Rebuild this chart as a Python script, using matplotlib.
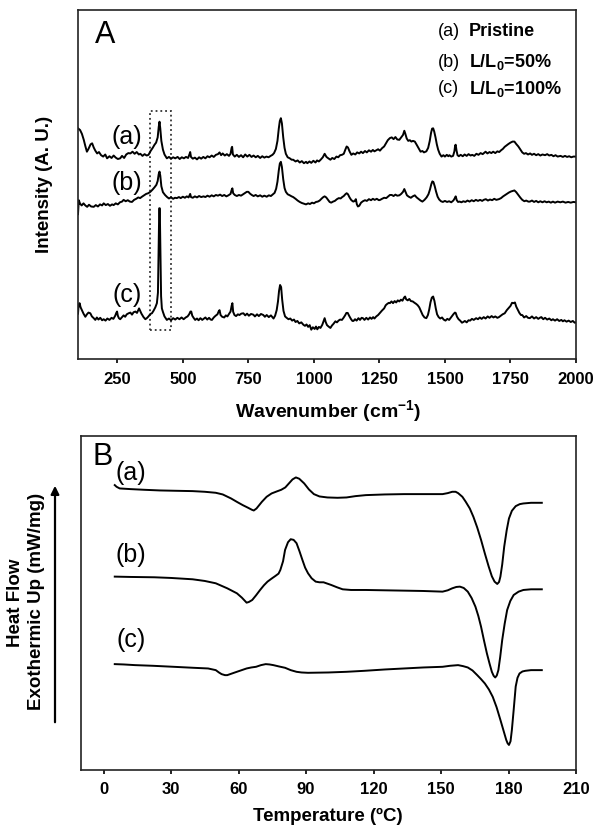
import matplotlib
matplotlib.use("Agg")
import matplotlib.pyplot as plt
from matplotlib.patches import Rectangle, FancyArrowPatch

plt.rcParams['font.family'] = ['Liberation Sans', 'DejaVu Sans']
plt.rcParams['mathtext.fontset'] = 'custom'
plt.rcParams['mathtext.rm'] = 'Liberation Sans'
plt.rcParams['mathtext.bf'] = 'Liberation Sans:bold'

# ---------------- Panel A: Raman spectra (arbitrary units) ----------------
raman_a_x = [100, 108, 115, 122, 128, 134, 140, 148, 154, 160, 166, 173, 180, 188, 196, 204, 211, 220, 228, 236,
             244, 252, 261, 268, 276, 284, 292, 300, 308, 316, 324, 332, 338, 346, 354, 362, 369, 377, 385, 392,
             398, 404, 408, 411, 414, 418, 424, 430, 439, 447, 455, 463, 471, 480, 488, 496, 504, 512, 520, 526,
             528, 531, 538, 546, 554, 562, 570, 578, 586, 594, 602, 610, 618, 626, 634, 640, 646, 652, 660, 668,
             676, 682, 686, 688, 691, 698, 706, 714, 722, 730, 738, 746, 754, 762, 770, 778, 786, 795, 803, 811,
             819, 827, 835, 842, 848, 855, 861, 866, 870, 874, 878, 883, 888, 893, 900, 908, 915, 921, 930, 938,
             946, 954, 962, 970, 975, 983, 990, 998, 1006, 1012, 1019, 1027, 1034, 1041, 1048, 1055, 1063, 1070,
             1078, 1086, 1093, 1100, 1107, 1114, 1120, 1125, 1130, 1136, 1143, 1150, 1158, 1165, 1173, 1180, 1187,
             1195, 1202, 1210, 1218, 1225, 1231, 1238, 1245, 1252, 1260, 1268, 1275, 1282, 1290, 1297, 1304, 1311,
             1318, 1326, 1333, 1340, 1345, 1349, 1354, 1360, 1366, 1372, 1378, 1385, 1392, 1400, 1407, 1414, 1420,
             1429, 1436, 1442, 1447, 1451, 1455, 1459, 1464, 1469, 1474, 1480, 1487, 1494, 1500, 1507, 1513, 1517,
             1524, 1531, 1536, 1539, 1541, 1544, 1548, 1553, 1560, 1568, 1575, 1583, 1590, 1598, 1604, 1612, 1620,
             1628, 1636, 1644, 1650, 1655, 1662, 1670, 1677, 1684, 1692, 1700, 1707, 1714, 1721, 1728, 1735, 1742,
             1750, 1758, 1765, 1772, 1780, 1788, 1795, 1802, 1809, 1817, 1825, 1832, 1840, 1848, 1856, 1864, 1872,
             1882, 1890, 1898, 1906, 1914, 1922, 1930, 1941, 1950, 1958, 1966, 1974, 1982, 1990, 2000]
raman_a_y = [66.1, 65.6, 64.5, 62.8, 61.0, 59.4, 60.2, 61.5, 61.8, 60.6, 59.7, 58.9, 59.3, 58.4, 58.0, 58.6, 57.5, 58.1, 57.6, 58.3,
             57.7, 57.3, 57.5, 58.2, 57.6, 58.6, 59.0, 58.9, 59.4, 58.8, 59.3, 58.6, 58.8, 58.2, 58.7, 58.3, 58.5, 59.6, 60.5, 61.4,
             62.0, 63.5, 66.5, 68.0, 66.0, 62.5, 60.0, 58.6, 57.5, 57.9, 57.4, 57.8, 57.5, 57.9, 57.3, 57.8, 57.5, 57.9, 57.6, 58.8,
             59.3, 57.9, 57.4, 57.7, 57.2, 57.8, 57.4, 57.9, 57.5, 58.1, 57.8, 58.3, 57.9, 58.5, 58.7, 59.2, 58.4, 58.9, 58.3, 58.7,
             58.2, 58.8, 60.5, 60.8, 58.6, 58.0, 58.5, 57.9, 58.4, 57.8, 58.6, 58.0, 58.5, 57.9, 58.3, 57.8, 58.2, 57.6, 58.1, 57.7,
             58.0, 57.8, 58.2, 58.5, 59.0, 60.2, 62.5, 66.0, 68.2, 69.0, 67.5, 63.5, 60.5, 58.8, 57.8, 57.5, 57.1, 57.1, 56.6, 56.9,
             56.3, 56.7, 56.1, 56.5, 56.1, 56.6, 56.2, 56.8, 56.3, 56.9, 56.6, 57.2, 57.8, 58.8, 57.9, 57.5, 57.1, 57.6,
             57.3, 58.0, 57.8, 58.4, 58.5, 58.8, 60.0, 60.9, 60.6, 59.5, 58.5, 58.9, 58.6, 59.2, 58.9, 59.4, 59.0,
             59.6, 59.2, 59.8, 59.4, 59.9, 59.5, 59.8, 60.1, 59.7, 60.4, 60.9, 61.8, 62.7, 63.3, 63.5, 63.0, 63.6,
             62.9, 62.8, 63.5, 64.2, 65.4, 64.5, 63.2, 62.5, 62.7, 62.3, 62.5, 62.3, 61.4, 60.3, 59.4, 59.6, 59.2,
             59.5, 60.5, 62.5, 64.8, 66.0, 66.1, 65.2, 63.5, 61.5, 60.0, 58.8, 58.0, 58.4, 58.0, 58.5, 58.1, 58.4,
             58.0, 58.2, 59.5, 61.2, 61.4, 59.8, 58.4, 58.1, 58.5, 58.1, 58.6, 58.2, 58.7, 58.3, 58.5, 58.2, 58.8,
             58.5, 59.0, 58.7, 59.1, 59.4, 58.9, 59.3, 59.0, 59.4, 59.0, 59.5, 59.3, 59.8, 60.2, 60.8, 61.2, 61.6,
             62.0, 62.3, 62.3, 61.6, 60.9, 60.0, 59.2, 58.8, 59.0, 58.6, 58.9, 58.5, 58.8, 58.4, 58.7, 58.3, 58.6,
             58.4, 58.7, 58.3, 58.5, 58.1, 58.4, 58.0, 58.2, 57.9, 58.2, 57.9, 58.1, 57.8, 58.0, 58.0]

raman_b_x = [100, 103, 108, 114, 121, 128, 135, 142, 150, 160, 168, 176, 184, 192, 198, 206, 214, 222, 230, 236,
             244, 252, 260, 268, 274, 282, 290, 298, 306, 314, 322, 330, 337, 344, 352, 360, 368, 376, 384, 392,
             399, 404, 408, 411, 414, 418, 424, 432, 440, 447, 455, 463, 470, 477, 485, 492, 500, 508, 515, 522,
             526, 528, 531, 538, 546, 554, 562, 570, 579, 586, 594, 602, 610, 618, 626, 634, 642, 650, 658, 666,
             674, 682, 686, 689, 692, 698, 706, 714, 722, 730, 738, 744, 750, 756, 763, 770, 778, 786, 795, 803,
             811, 820, 828, 836, 844, 850, 856, 861, 866, 870, 874, 878, 883, 888, 893, 900, 908, 915, 921, 930,
             938, 946, 954, 962, 970, 978, 985, 993, 1000, 1008, 1015, 1022, 1030, 1036, 1041, 1047, 1054, 1060,
             1066, 1073, 1080, 1088, 1095, 1102, 1108, 1114, 1120, 1125, 1130, 1136, 1142, 1148, 1151, 1156, 1160,
             1164, 1168, 1173, 1180, 1187, 1195, 1202, 1210, 1218, 1225, 1232, 1240, 1248, 1253, 1260, 1268, 1276,
             1284, 1290, 1297, 1304, 1311, 1318, 1326, 1333, 1340, 1345, 1349, 1355, 1362, 1370, 1377, 1385, 1392,
             1400, 1407, 1414, 1422, 1430, 1437, 1443, 1448, 1452, 1456, 1461, 1466, 1472, 1478, 1485, 1492, 1500,
             1508, 1516, 1524, 1532, 1537, 1541, 1545, 1550, 1556, 1563, 1570, 1578, 1586, 1594, 1602, 1610, 1618,
             1626, 1634, 1642, 1648, 1656, 1664, 1672, 1680, 1688, 1696, 1706, 1714, 1722, 1730, 1736, 1744, 1752,
             1760, 1765, 1772, 1780, 1788, 1795, 1803, 1810, 1818, 1824, 1832, 1840, 1848, 1856, 1864, 1872, 1880,
             1888, 1896, 1904, 1912, 1920, 1930, 1940, 1950, 1960, 1970, 1980, 1990, 2000]
raman_b_y = [41.5, 45.5, 44.5, 44.0, 44.6, 44.0, 43.6, 44.2, 43.7, 43.6, 44.1, 43.7, 44.3, 44.0, 44.6, 44.1, 44.4, 43.9, 44.3, 44.1,
             44.6, 44.3, 44.9, 45.1, 45.6, 45.2, 45.5, 45.1, 45.0, 45.6, 45.9, 46.3, 46.1, 46.5, 46.9, 47.3, 47.5, 47.9, 48.5, 49.2,
             49.9, 51.0, 53.0, 53.7, 52.5, 49.5, 47.8, 47.0, 46.4, 46.0, 46.3, 45.9, 46.2, 46.1, 46.4, 46.1, 46.5, 46.2, 46.6, 46.3,
             47.0, 47.3, 46.4, 46.2, 46.6, 46.3, 46.7, 46.4, 46.6, 46.4, 46.8, 46.5, 46.9, 46.6, 47.0, 46.8, 47.1, 46.7, 47.0, 46.6,
             46.9, 47.3, 48.4, 48.9, 47.5, 47.0, 46.7, 47.0, 46.8, 47.2, 47.6, 47.9, 47.9, 47.4, 47.0, 46.7, 47.0, 46.6, 46.9, 46.5,
             46.8, 46.5, 46.9, 46.7, 47.2, 47.6, 48.8, 50.8, 54.0, 56.0, 56.5, 55.0, 51.5, 49.0, 47.9, 47.2, 46.9, 46.6, 46.4, 45.9,
             45.4, 45.0, 44.7, 44.5, 44.3, 44.6, 44.4, 44.8, 44.6, 45.0, 45.1, 45.4, 46.0, 46.4, 46.6, 46.3, 45.6, 45.0,
             44.8, 45.1, 45.3, 45.8, 46.1, 46.0, 46.4, 46.7, 47.2, 47.5, 47.2, 46.3, 45.6, 45.2, 45.1, 45.3, 45.8,
             44.3, 43.7, 43.9, 44.8, 45.2, 45.5, 45.3, 45.8, 45.5, 45.9, 45.6, 45.9, 45.5, 45.6, 45.9, 46.2, 46.1,
             46.6, 47.0, 47.0, 46.7, 47.1, 46.8, 46.9, 47.3, 47.9, 48.7, 48.0, 46.9, 46.5, 46.2, 46.6, 46.9, 46.3,
             45.8, 45.4, 45.1, 45.6, 46.3, 47.2, 48.6, 50.1, 50.9, 50.7, 49.5, 48.0, 46.5, 45.7, 45.2, 45.0, 45.3,
             45.0, 45.2, 44.9, 45.4, 46.0, 46.6, 45.5, 45.0, 45.1, 44.9, 45.2, 45.0, 45.4, 45.1, 45.5, 45.2, 45.6,
             45.3, 45.6, 45.3, 45.6, 45.8, 45.4, 45.7, 45.5, 45.9, 45.6, 45.8, 46.1, 46.6, 47.0, 47.3, 47.7, 48.0,
             48.2, 48.3, 47.8, 47.0, 46.2, 45.6, 45.2, 45.4, 45.1, 45.1, 45.4, 45.0, 45.3, 44.9, 45.2, 44.9, 45.2,
             44.9, 45.1, 44.8, 45.1, 44.8, 45.1, 44.9, 45.1, 44.8, 45.0, 44.8, 45.0, 44.9]

raman_c_x = [100, 102, 106, 110, 115, 121, 128, 134, 140, 147, 153, 160, 166, 172, 178, 185, 192, 198, 205, 212,
             220, 228, 235, 242, 246, 249, 252, 256, 261, 268, 274, 280, 286, 293, 300, 306, 312, 319, 325, 330,
             333, 337, 342, 350, 357, 364, 370, 376, 382, 388, 395, 401, 405, 407, 409, 410, 412, 413, 415, 417,
             420, 424, 430, 439, 447, 455, 463, 471, 479, 487, 495, 503, 511, 518, 524, 529, 532, 536, 541, 547,
             554, 560, 567, 574, 579, 586, 593, 600, 606, 611, 618, 625, 632, 637, 640, 644, 650, 658, 664, 670,
             676, 682, 686, 689, 692, 697, 703, 710, 716, 723, 731, 738, 745, 752, 760, 769, 775, 783, 790, 798,
             807, 813, 820, 828, 836, 846, 852, 858, 863, 867, 871, 875, 879, 884, 890, 896, 903, 910, 917, 924,
             930, 937, 944, 952, 960, 966, 972, 978, 984, 990, 996, 1003, 1008, 1013, 1019, 1025, 1032, 1037, 1041,
             1045, 1050, 1056, 1063, 1069, 1075, 1082, 1088, 1094, 1100, 1107, 1113, 1119, 1124, 1129, 1135, 1141,
             1147, 1151, 1157, 1163, 1170, 1176, 1182, 1187, 1193, 1200, 1207, 1214, 1220, 1226, 1231, 1238, 1245,
             1252, 1260, 1268, 1274, 1280, 1286, 1290, 1296, 1302, 1308, 1314, 1320, 1326, 1332, 1338, 1344, 1348,
             1352, 1358, 1364, 1370, 1377, 1384, 1390, 1396, 1402, 1409, 1415, 1422, 1429, 1435, 1440, 1445, 1450,
             1455, 1460, 1465, 1470, 1476, 1482, 1489, 1495, 1502, 1509, 1516, 1522, 1528, 1533, 1538, 1541, 1546,
             1552, 1558, 1565, 1570, 1576, 1583, 1590, 1596, 1603, 1610, 1619, 1626, 1633, 1640, 1648, 1655, 1663,
             1670, 1678, 1685, 1692, 1700, 1706, 1713, 1720, 1728, 1736, 1743, 1750, 1756, 1762, 1767, 1772, 1778,
             1784, 1790, 1795, 1802, 1810, 1817, 1824, 1832, 1840, 1848, 1856, 1864, 1868, 1875, 1882, 1890, 1898,
             1906, 1912, 1920, 1928, 1936, 1944, 1950, 1956, 1964, 1972, 1980, 1988, 1995, 2000]
raman_c_y = [13.0, 15.0, 16.0, 14.8, 14.0, 13.0, 12.1, 12.8, 13.3, 13.1, 12.2, 11.7, 11.2, 11.9, 11.3, 11.8, 11.1, 11.4, 11.0, 11.6,
             11.2, 11.8, 11.5, 12.4, 13.2, 13.6, 12.4, 11.7, 11.4, 12.0, 12.5, 12.1, 12.8, 13.1, 13.3, 12.7, 13.4, 13.6, 13.2, 14.0,
             14.5, 13.8, 13.0, 12.0, 11.4, 11.8, 12.3, 12.9, 13.1, 13.8, 14.8, 16.0, 19.0, 28.0, 38.0, 43.2, 43.2, 38.0, 26.0, 18.0,
             14.5, 13.5, 12.2, 11.2, 11.6, 11.1, 11.7, 11.3, 11.8, 11.4, 11.9, 11.4, 11.9, 12.2, 12.8, 13.6, 13.6, 12.4, 11.8, 11.2,
             11.6, 11.1, 11.7, 11.2, 11.5, 11.9, 11.3, 11.8, 11.3, 11.2, 11.9, 12.4, 12.8, 13.7, 14.0, 12.6, 12.1, 11.9, 12.5, 12.2,
             12.9, 13.6, 15.2, 16.0, 13.5, 12.6, 12.3, 12.8, 12.6, 13.0, 13.1, 12.5, 13.0, 12.4, 12.9, 12.7, 12.2, 12.8, 12.3, 12.9,
             12.6, 12.1, 12.6, 12.0, 12.5, 11.6, 12.4, 14.0, 16.5, 19.5, 21.2, 20.6, 17.0, 13.8, 12.2, 11.8, 11.4, 11.6, 11.0, 11.3,
             10.6, 10.9, 10.2, 10.5, 9.8, 9.5, 9.9, 9.2, 9.7, 8.4, 9.1, 8.6, 9.3, 8.5, 9.2, 8.9, 9.8, 10.9, 11.7,
             10.6, 9.7, 9.3, 8.9, 9.6, 10.1, 10.8, 10.5, 11.0, 11.3, 11.2, 11.8, 12.5, 13.2, 13.2, 12.3, 11.5,
             10.9, 10.9, 11.4, 11.0, 11.7, 11.2, 11.8, 11.7, 11.2, 11.8, 11.3, 11.9, 11.5, 12.0, 11.6, 12.2, 12.6,
             13.2, 13.9, 14.5, 15.4, 15.8, 16.1, 16.0, 16.5, 16.0, 16.6, 16.2, 16.8, 16.5, 17.0, 16.7, 17.6, 17.9,
             17.1, 16.8, 17.2, 16.6, 16.5, 16.1, 15.8, 15.4, 14.8, 13.6, 12.6, 11.9, 11.7, 12.6, 14.2, 16.3, 17.6,
             17.9, 16.6, 14.5, 12.8, 12.0, 11.6, 11.9, 11.3, 11.0, 11.5, 11.2, 11.8, 12.4, 12.9, 13.3, 13.2, 12.1,
             11.4, 11.0, 10.4, 10.6, 10.9, 10.5, 11.1, 11.0, 11.5, 11.2, 11.7, 11.4, 11.9, 11.5, 12.0, 11.6, 12.2,
             11.8, 12.3, 11.9, 12.2, 11.8, 12.0, 12.4, 12.8, 13.1, 14.0, 14.6, 15.2, 16.1, 16.0, 16.2, 15.0, 14.1,
             13.2, 12.6, 12.6, 11.9, 12.3, 11.8, 11.7, 12.2, 11.6, 12.0, 11.5, 11.9, 12.0, 11.4, 11.8, 11.3, 11.6,
             11.1, 11.4, 11.0, 11.4, 10.9, 11.2, 10.8, 11.1, 10.7, 11.0, 10.6, 10.9, 10.4, 10.5]

raman_ticks = [250, 500, 750, 1000, 1250, 1500, 1750, 2000]
raman_labels = ['(a)', '(b)', '(c)']
raman_label_x = [288, 288, 288]
raman_label_y = [63.7, 50.3, 18.3]
legend_tags = ['(a)', '(b)', '(c)']
legend_names = ['Pristine', r'L/L$\mathbf{_0}$=50%', r'L/L$\mathbf{_0}$=100%']
box_x0, box_x1 = 374, 456
box_y0, box_y1 = 8.2, 71.0

# ---------------- Panel B: DSC curves (arbitrary units) ----------------
dsc_a_t = [5.0, 5.8, 7.2, 12, 18, 25, 32, 39.6, 45, 49.9, 53, 56.7, 59.5, 61.9, 64, 66, 66.8, 68, 70.4, 72.5,
           74.7, 77, 79.0, 80.8, 82.4, 84, 85.5, 87, 89.2, 91.3, 93.5, 96, 99.5, 104, 108, 112, 116.6, 125, 133.6,
           142, 150.7, 153, 155, 156.5, 157.6, 159.5, 161, 162.8, 164.4, 166.1, 167.8, 169.5, 171.2, 172.6, 173.8,
           175.0, 175.8, 176.4, 177.2, 178.1, 179.2, 180.2, 181.5, 183.2, 185, 186.6, 190, 194.8]
dsc_a_y = [85.3, 84.8, 84.3, 84.1, 83.9, 83.7, 83.6, 83.5, 83.3, 83.0, 82.5, 81.3, 80.2, 79.3, 78.6, 77.9, 77.7, 78.3, 80.3, 81.8,
           82.8, 83.4, 83.9, 84.6, 85.8, 87.0, 87.6, 87.2, 85.8, 84.0, 82.6, 81.9, 81.6, 81.5, 81.6, 82.0, 82.3, 82.5, 82.6,
           82.6, 82.6, 82.9, 83.3, 83.3, 82.9, 81.8, 80.3, 78.3, 75.8, 72.6, 68.9, 64.8, 60.9, 58.0, 56.4,
           55.7, 56.3, 57.9, 61.5, 66.9, 71.8, 75.3, 77.6, 79.0, 79.6, 79.8, 80.0, 80.0]

dsc_b_t = [5.0, 12, 22.6, 30, 39.6, 45, 49.9, 55.0, 59.3, 61.5, 63.6, 64.6, 66.1, 67.8, 69.6, 71.3, 72.9, 74.7, 76.4, 77.8,
           78.6, 79.8, 80.7, 82, 83.2, 84.5, 85.8, 87.1, 88.4, 89.6, 90.9, 92.5, 94.3, 96, 97.8, 99.5, 101.2, 103.8,
           106.3, 110, 116.6, 125, 133.6, 142, 150.7, 153, 155.0, 156.8, 158.4, 160.1, 161.9, 163.6, 165.3, 166.6,
           167.8, 169.1, 170.4, 171.6, 172.6, 173.4, 174.1, 174.8, 175.5, 176.3, 177.2, 178.3, 179.4, 180.8, 182.3,
           184.5, 186.6, 190, 194.8]
dsc_b_y = [57.9, 57.8, 57.7, 57.5, 57.1, 56.6, 55.9, 54.4, 52.9, 51.6, 50.1, 50.3, 50.9, 52.3, 53.9, 55.3, 56.4, 57.3, 58.1, 58.8,
           59.9, 62.5, 65.9, 68.2, 69.1, 68.9, 67.9, 65.5, 62.9, 60.6, 58.9, 57.4, 56.4, 56.2, 56.2, 55.8, 55.4, 54.7,
           54.1, 53.9, 53.9, 53.8, 53.7, 53.6, 53.4, 53.8, 54.4, 54.8, 54.9, 54.5, 53.4, 51.5, 48.9, 46.1,
           42.9, 38.8, 34.9, 31.8, 29.4, 28.2, 27.7, 28.3, 29.9, 33.8, 38.9, 43.8, 47.9, 50.6, 52.4,
           53.4, 53.9, 54.1, 54.1]

dsc_c_t = [5.0, 9, 14.0, 22, 31.1, 40, 46.5, 49.9, 51.3, 52.5, 54, 55.0, 56.7, 58.4, 61, 63.6, 65.7, 67.8, 70, 72.1,
           73.8, 75.5, 78, 80.7, 83.2, 85.8, 88, 90.9, 100, 108.0, 116, 125.1, 133.6, 142.2, 150.7, 154, 157.6, 159.8,
           161.9, 164, 166.1, 167.8, 169.5, 171.3, 173.0, 174.7, 176.4, 177.7, 179.0, 179.6, 180.2, 180.9, 181.5,
           182.3, 183.2, 184.0, 184.9, 186.2, 187.5, 190, 194.8]
dsc_c_y = [31.7, 31.6, 31.4, 31.2, 30.9, 30.6, 30.4, 29.9, 29.2, 28.7, 28.4, 28.4, 28.8, 29.2, 29.8, 30.4, 30.7, 30.9, 31.4, 31.7,
           31.6, 31.4, 31.0, 30.6, 29.9, 29.4, 29.2, 29.1, 29.2, 29.4, 29.7, 30.1, 30.4, 30.7, 30.9, 31.2, 31.4, 31.1,
           30.7, 29.8, 28.4, 27.2, 25.9, 24.1, 21.9, 18.8, 15.0, 12.0, 9.0, 8.0, 7.5, 8.6, 12.0,
           18.0, 25.0, 27.6, 28.9, 29.5, 29.7, 29.9, 29.9]

dsc_ticks = [0, 30, 60, 90, 120, 150, 180, 210]
dsc_labels = ['(a)', '(b)', '(c)']
dsc_label_t = [12.1, 12.1, 12.1]
dsc_label_y = [88.9, 64.4, 38.9]

W, H = 603, 839
fig = plt.figure(figsize=(W / 100, H / 100), dpi=100)


def px_axes(left, top, right, bottom):
    return fig.add_axes([left / W, 1 - bottom / H, (right - left) / W, (bottom - top) / H])


def style_axes(ax):
    for s in ax.spines.values():
        s.set_linewidth(1.2)
        s.set_color('#222222')
    ax.tick_params(axis='x', direction='out', length=3, width=1.2, pad=6, labelsize=12)
    ax.set_yticks([])
    for lab in ax.get_xticklabels():
        lab.set_fontweight('bold')


# Panel A
axA = px_axes(78, 10, 576, 359)
for xs, ys in [(raman_a_x, raman_a_y), (raman_b_x, raman_b_y), (raman_c_x, raman_c_y)]:
    axA.plot(xs, ys, color='black', lw=1.4)
axA.add_patch(Rectangle((box_x0, box_y0), box_x1 - box_x0, box_y1 - box_y0, fill=False,
                        linestyle=':', lw=1.3, edgecolor='#333333'))
axA.set_xlim(100, 2000)
axA.set_ylim(0, 100)
axA.set_xticks(raman_ticks)
style_axes(axA)
for lab, x, y in zip(raman_labels, raman_label_x, raman_label_y):
    axA.text(x, y, lab, fontsize=18, ha='center', va='center')
axA.text(0.054, 0.928, 'A', transform=axA.transAxes, fontsize=22, ha='center', va='center')
for i, (tag, name) in enumerate(zip(legend_tags, legend_names)):
    yy = [0.937, 0.851, 0.775][i]
    axA.text(0.722, yy, tag, transform=axA.transAxes, fontsize=13, ha='left', va='center')
    axA.text(0.785, yy, name, transform=axA.transAxes, fontsize=13, fontweight='bold',
             ha='left', va='center')
fig.text(328 / W, 1 - 411 / H, r'Wavenumber (cm$\mathbf{^{-1}}$)', fontsize=14, fontweight='bold',
         ha='center', va='center')
fig.text(45 / W, 1 - 184 / H, 'Intensity (A. U.)', fontsize=13.5, fontweight='bold',
         rotation=90, ha='center', va='center')

# Panel B
axB = px_axes(81, 436, 576, 770)
for ts, ys in [(dsc_a_t, dsc_a_y), (dsc_b_t, dsc_b_y), (dsc_c_t, dsc_c_y)]:
    axB.plot(ts, ys, color='black', lw=1.4)
axB.set_xlim(-10, 210)
axB.set_ylim(0, 100)
axB.set_xticks(dsc_ticks)
style_axes(axB)
for lab, t, y in zip(dsc_labels, dsc_label_t, dsc_label_y):
    axB.text(t, y, lab, fontsize=18, ha='center', va='center')
axB.text((103 - 81) / 495, (770 - 457) / 334, 'B', transform=axB.transAxes, fontsize=22,
         ha='center', va='center')
fig.text(328 / W, 1 - 816 / H, 'Temperature (ºC)', fontsize=13.5, fontweight='bold',
         ha='center', va='center')
fig.text(16 / W, 1 - 603 / H, 'Heat Flow', fontsize=13.5, fontweight='bold',
         rotation=90, ha='center', va='center')
fig.text(37 / W, 1 - 601 / H, 'Exothermic Up (mW/mg)', fontsize=13.5, fontweight='bold',
         rotation=90, ha='center', va='center')
fig.add_artist(FancyArrowPatch((55 / W, 1 - 725 / H), (55 / W, 1 - 483 / H),
                               transform=fig.transFigure, arrowstyle='-|>',
                               mutation_scale=12, lw=1.6, color='black'))

fig.savefig('out.png', dpi=100)
